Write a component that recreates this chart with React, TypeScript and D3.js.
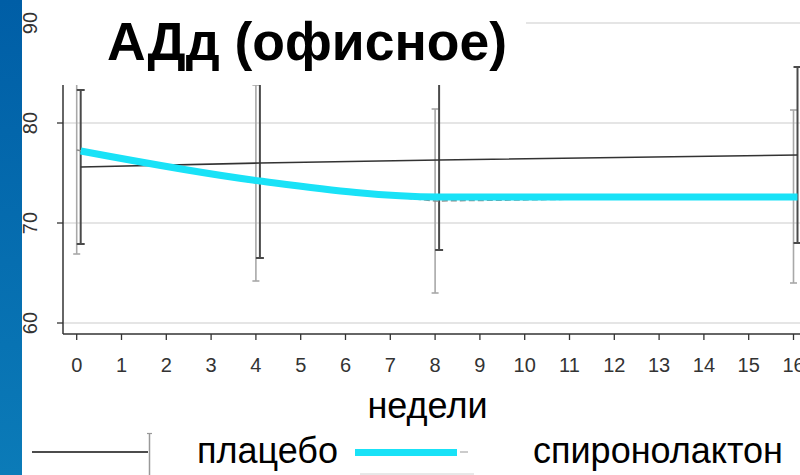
import React from "react";
import * as d3 from "d3";

const weeks = [0, 4, 8, 16];
const placeboMean = [75.6, 76.0, 76.3, 76.8];
const placeboSD = [7.7, 9.5, 9.0, 8.8];
const spiroMean = [77.3, 74.0, 72.2, 72.65];
const spiroSD = [10.4, 9.8, 9.2, 8.65];
const spiroHighlight = [77.2, 74.2, 72.6, 72.6];
const xTicks = d3.range(0, 17);
const yTicks = [60, 70, 80, 90];
const titleText = "АДд (офисное)";
const xTitle = "недели";
const legendLabels = ["плацебо", "спиронолактон"];

const W = 800;
const H = 475;
const FONT = "'Liberation Sans', Arial, Helvetica, sans-serif";

export default function App() {
  const x = d3.scaleLinear().domain([0, 16]).range([76.7, 793.5]);
  const y = d3.scaleLinear().domain([60, 90]).range([323, 23]);
  const off = 4;
  const axisX = 63;
  const axisY = 334;

  const placeboLine = d3
    .line<number>()
    .x((_, i) => x(weeks[i]) + off)
    .y((d) => y(d))(placeboMean);
  const spiroLine = d3
    .line<number>()
    .x((_, i) => x(weeks[i]))
    .y((d) => y(d))(spiroMean);
  const cyanLine = d3
    .line<number>()
    .x((_, i) => x(weeks[i]) + off)
    .y((d) => y(d))
    .curve(d3.curveMonotoneX)(spiroHighlight);

  const errBar = (cx: number, m: number, sd: number, color: string, sw: number, cap: number, key: string) => (
    <g key={key} stroke={color} strokeWidth={sw}>
      <line x1={cx} x2={cx} y1={y(m + sd)} y2={y(m - sd)} />
      <line x1={cx - cap / 2} x2={cx + cap / 2} y1={y(m + sd)} y2={y(m + sd)} />
      <line x1={cx - cap / 2} x2={cx + cap / 2} y1={y(m - sd)} y2={y(m - sd)} />
    </g>
  );

  return (
    <svg
      width={W}
      height={H}
      style={{ position: "absolute", left: 0, top: 0, display: "block", background: "#fff" }}
      fontFamily={FONT}
    >
      <defs>
        <linearGradient id="bluebar" x1="0" y1="0" x2="0" y2="1">
          <stop offset="0" stopColor="#005ea6" />
          <stop offset="1" stopColor="#0b7bb8" />
        </linearGradient>
      </defs>
      <rect x={0} y={0} width={W} height={H} fill="#fff" />

      {/* grid */}
      {yTicks.map((t) => (
        <line key={"g" + t} x1={axisX} x2={W} y1={y(t)} y2={y(t)} stroke="#dcdcdc" strokeWidth={1.6} />
      ))}

      {/* axes */}
      <line x1={axisX} x2={axisX} y1={y(90)} y2={axisY} stroke="#333" strokeWidth={1.5} />
      <line x1={axisX} x2={W} y1={axisY} y2={axisY} stroke="#333" strokeWidth={1.5} />
      {yTicks.map((t) => (
        <g key={"yt" + t}>
          <line x1={axisX - 6} x2={axisX} y1={y(t)} y2={y(t)} stroke="#333" strokeWidth={1.3} />
          <text
            transform={`translate(37,${y(t)}) rotate(-90)`}
            textAnchor="middle"
            fontSize={20}
            fill="#333"
          >
            {t}
          </text>
        </g>
      ))}
      {xTicks.map((t) => (
        <g key={"xt" + t}>
          <line x1={x(t)} x2={x(t)} y1={axisY} y2={axisY + 6} stroke="#333" strokeWidth={1.3} />
          <text x={x(t)} y={372} textAnchor="middle" fontSize={20} fill="#333">
            {t}
          </text>
        </g>
      ))}

      {/* error bars */}
      {weeks.map((w, i) => errBar(x(w), spiroMean[i], spiroSD[i], "#a8a8a8", 1.6, 7, "s" + i))}
      {weeks.map((w, i) => errBar(x(w) + off, placeboMean[i], placeboSD[i], "#4a4a4a", 2, 8, "p" + i))}

      {/* lines */}
      <path d={spiroLine || ""} fill="none" stroke="#8a8a8a" strokeWidth={1.5} strokeDasharray="6,3" />
      <path d={placeboLine || ""} fill="none" stroke="#333" strokeWidth={1.6} />
      <path d={cyanLine || ""} fill="none" stroke="#19e2f7" strokeWidth={7} strokeLinecap="butt" />

      {/* title cover box */}
      <rect x={40} y={0} width={486} height={85} fill="#fff" />
      <text x={107} y={60} fontSize={53.5} fontWeight="bold" fill="#000">
        {titleText}
      </text>

      {/* x title */}
      <text x={427.5} y={418} textAnchor="middle" fontSize={36} fill="#000">
        {xTitle}
      </text>

      {/* legend */}
      <line x1={32} x2={148} y1={452} y2={452} stroke="#111" strokeWidth={1.5} />
      <line x1={149.5} x2={149.5} y1={433} y2={475} stroke="#999" strokeWidth={1.5} />
      <line x1={147} x2={152} y1={433.5} y2={433.5} stroke="#999" strokeWidth={1.2} />
      <text x={197} y={463} fontSize={36} fill="#000">
        {legendLabels[0]}
      </text>
      <line x1={360} x2={474} y1={474} y2={474} stroke="#d0d0d0" strokeWidth={1} />
      <line x1={460} x2={468} y1={452} y2={452} stroke="#aaa" strokeWidth={1.2} />
      <line x1={355} x2={457} y1={452.5} y2={452.5} stroke="#19e2f7" strokeWidth={7} />
      <text x={533} y={463} fontSize={36} fill="#000">
        {legendLabels[1]}
      </text>

      {/* left blue bar */}
      <rect x={0} y={0} width={22} height={H} fill="url(#bluebar)" />
    </svg>
  );
}
